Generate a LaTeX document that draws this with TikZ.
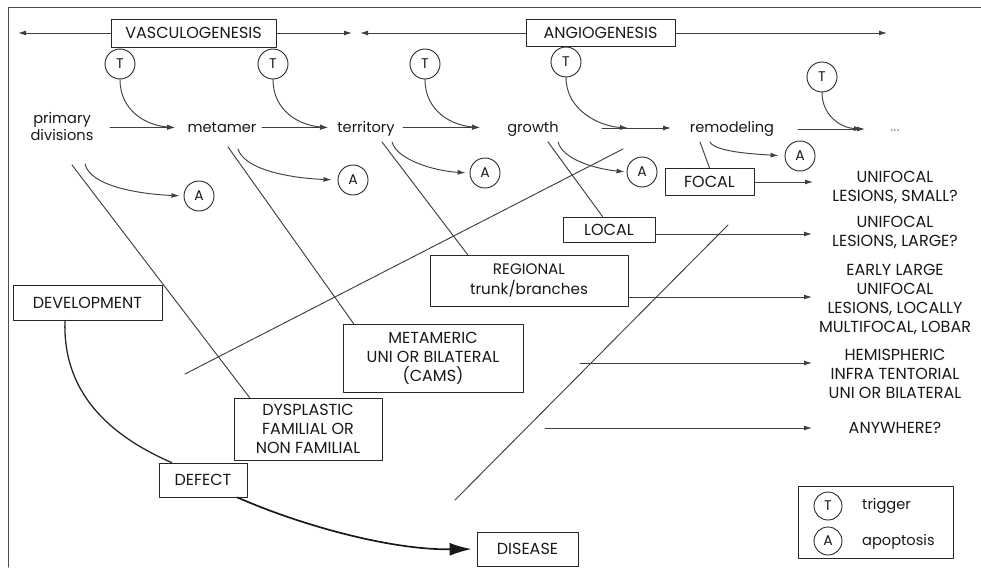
\documentclass[tikz,border=0pt]{standalone}
\usepackage{fontspec}
\setmainfont{Poppins}
\usetikzlibrary{arrows.meta}

\begin{document}
\begin{tikzpicture}[x=1pt,y=-1pt,line cap=round,line join=round,
  every node/.style={inner sep=1pt,align=center,text=black!90,font=\fontsize{16}{19}\selectfont},
  lower/.style={font=\fontsize{14.6}{17}\selectfont},
  box/.style={draw=black!85,line width=0.9pt,inner sep=0pt},
  tc/.style={draw=black!85,circle,line width=0.9pt,minimum size=30pt,inner sep=0pt,font=\fontsize{14}{16}\selectfont},
  arr/.style={-{Latex[length=8pt,width=5pt]}},
  ln/.style={line width=0.95pt,black!75}]
  \useasboundingbox (0,0) rectangle (981,567);
  \draw[line width=1pt,black!70] (8,567) -- (8,8) -- (981,8);

  % top row
  \node[box,minimum width=165pt,minimum height=28pt] (vasc) at (193.5,33) {VASCULOGENESIS};
  \node[box,minimum width=149pt,minimum height=27pt] (angio) at (600.5,33) {ANGIOGENESIS};
  \coordinate (vl) at (18,33);
  \coordinate (vr) at (352,33);
  \coordinate (al) at (360,33);
  \coordinate (ar) at (887,33);
  \draw[ln,arr] (vasc) -- (vl);
  \draw[ln,arr] (vasc) -- (vr);
  \draw[ln,arr] (angio) -- (al);
  \draw[ln,arr] (angio) -- (ar);

  % stages
  \node[lower] (prim) at (62,127) {primary\\divisions};
  \node[lower,anchor=base] (meta) at (222,132) {metamer};
  \node[lower,anchor=base] (terr) at (366,132) {territory};
  \node[lower,anchor=base] (grow) at (533,132) {growth};
  \node[lower,anchor=base] (remod) at (732,132) {remodeling};
  \node[lower,anchor=base,text=black!45] (dots) at (895,131) {...};

  \node[tc] (t1) at (120,64) {T};
  \node[tc] (t2) at (273,64) {T};
  \node[tc] (t3) at (425,64) {T};
  \node[tc] (t4) at (566,62) {T};
  \node[tc] (t5) at (822,77) {T};

  \node[tc] (a1) at (199,196) {A};
  \node[tc] (a2) at (353,180) {A};
  \node[tc] (a3) at (485,173) {A};
  \node[tc] (a4) at (642,172) {A};
  \node[tc] (a5) at (800,156) {A};

  \coordinate (h1) at (175,127.5);
  \coordinate (h2) at (328,127.5);
  \coordinate (h3) at (480,127.5);
  \coordinate (h4) at (628,128);
  \coordinate (h4b) at (671,128);
  \coordinate (h5) at (862,129);
  \coordinate (h5b) at (865,129);

  \draw[ln,arr] (110,127.5) -- (h1);
  \draw[ln,arr] (262,127.5) -- (h2);
  \draw[ln,arr] (403,127.5) -- (h3);
  \draw[ln,arr] (602,128) -- (h4b);
  \draw[ln,arr] (798,129) -- (h5b);

  \draw[ln,arr] (t1.south) .. controls +(0,32) and +(-28,-2) .. (h1);
  \draw[ln,arr] (t2.south) .. controls +(0,32) and +(-28,-2) .. (h2);
  \draw[ln,arr] (t3.south) .. controls +(0,32) and +(-28,-2) .. (h3);
  \draw[ln,arr] (t4.south) .. controls +(0,32) and +(-30,-2) .. (h4);
  \draw[ln,arr] (t5.south) .. controls +(0,24) and +(-20,-1) .. (h5);

  % apoptosis curves
  \coordinate (c1) at (85,164);
  \coordinate (c2) at (238,149);
  \coordinate (c3) at (392,142);
  \coordinate (c4) at (558,142);
  \coordinate (c5) at (710,142);
  \draw[ln,arr,shorten >=4pt] (c1) .. controls +(5,22) and +(-45,-2) .. (a1.west);
  \draw[ln,arr,shorten >=6pt] (c2) .. controls +(6,20) and +(-50,-2) .. (a2.west);
  \draw[ln,arr,shorten >=4pt] (c3) .. controls +(5,18) and +(-35,-2) .. (a3.west);
  \draw[ln,arr,shorten >=2pt] (c4) .. controls +(5,18) and +(-30,-3) .. (a4.west);
  \draw[ln,arr,shorten >=6pt] (c5) .. controls +(5,10) and +(-30,-2) .. (a5.west);

  % boxes
  \node[box,minimum width=149pt,minimum height=35pt] (devel) at (87.5,302.5) {DEVELOPMENT};
  \node[box,minimum width=180pt,minimum height=68pt] (metab) at (433,358) {METAMERIC\\UNI OR BILATERAL\\(CAMS)};
  \node[box,minimum width=198pt,minimum height=51pt,font=\fontsize{15.2}{20}\selectfont] (reg) at (529,280.5) {REGIONAL\\trunk/branches};
  \node[box,minimum width=148pt,minimum height=62pt] (dysp) at (308,429) {DYSPLASTIC\\FAMILIAL OR\\NON FAMILIAL};
  \node[box,minimum width=88pt,minimum height=34pt] (defect) at (203,480) {DEFECT};
  \node[box,minimum width=101pt,minimum height=34pt] (disease) at (527.5,549) {DISEASE};
  \node[box,minimum width=89pt,minimum height=27pt] (focal) at (709.5,182) {FOCAL};
  \node[box,minimum width=92pt,minimum height=25pt] (local) at (609,229.5) {LOCAL};

  % falling lines
  \coordinate (d1) at (72,165);
  \coordinate (d2) at (228,147);
  \coordinate (d3) at (382,142);
  \coordinate (d4) at (548,142);
  \coordinate (d5) at (700,142);
  \draw[ln] (d1) -- ([xshift=16pt]dysp.north west);
  \draw[ln] (d2) -- ([xshift=11pt]metab.north west);
  \draw[ln] (d3) -- ([xshift=38pt]reg.north west);
  \draw[ln] (d4) -- ([xshift=40pt]local.north west);
  \draw[ln] (d5) -- ([xshift=45pt]focal.north west);

  % rising lines
  \coordinate (r1a) at (185,374);
  \coordinate (r1b) at (623,149);
  \coordinate (r2a) at (455,500);
  \coordinate (r2b) at (728,225);
  \draw[ln] (r1a) -- (r1b);
  \draw[ln] (r2a) -- (r2b);

  % outcomes
  \node (small) at (895,187) {UNIFOCAL\\LESIONS, SMALL?};
  \node (large) at (895,232) {UNIFOCAL\\LESIONS, LARGE?};
  \node (early) at (895,300) {EARLY LARGE\\UNIFOCAL\\LESIONS, LOCALLY\\MULTIFOCAL, LOBAR};
  \node (hemi) at (895,374) {HEMISPHERIC\\INFRA TENTORIAL\\UNI OR BILATERAL};
  \node (anyw) at (895,428) {ANYWHERE?};

  \coordinate (e1) at (813,182);
  \coordinate (e2) at (812,234);
  \coordinate (e3) at (812,297);
  \coordinate (e4) at (812,363);
  \coordinate (e5) at (812,428);
  \coordinate (s4) at (580,363);
  \coordinate (s5) at (545,428);
  \draw[ln,arr] (focal) -- (e1);
  \draw[ln,arr] (local.east |- e2) -- (e2);
  \draw[ln,arr] (reg.east |- e3) -- (e3);
  \draw[ln,arr] (s4) -- (e4);
  \draw[ln,arr] (s5) -- (e5);

  % development path
  \draw[line width=1.3pt,black!85] ([xshift=-22.5pt]devel.south) .. controls (62,400) and (120,440) .. ([xshift=13pt]defect.north west);
  \draw[line width=1.7pt,black!90,-{Latex[length=22pt,width=13pt]},shorten >=5pt] ([xshift=-10pt]defect.south east) .. controls (300,525) and (390,550) .. (disease.west);

  % legend
  \node[box,minimum width=155pt,minimum height=72pt] (legend) at (875.5,522) {};
  \node[tc,minimum size=28pt] (lt) at (828,506) {T};
  \node[lower,anchor=base west] (ltx) at (861,509) {trigger};
  \node[tc,minimum size=28pt] (la) at (828,541) {A};
  \node[lower,anchor=base west] (lax) at (861,545) {apoptosis};
\end{tikzpicture}
\end{document}
